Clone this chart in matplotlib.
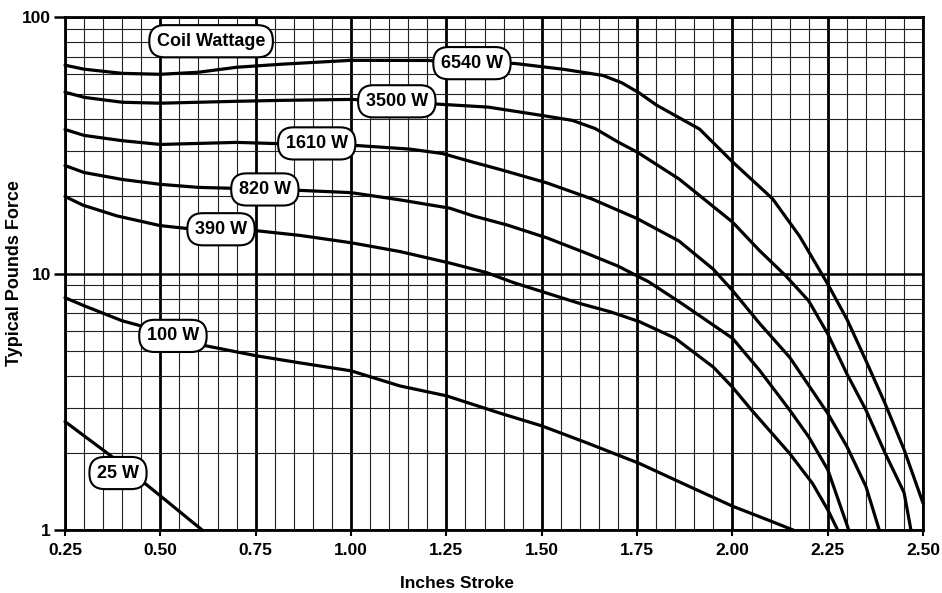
import numpy as np
import matplotlib.pyplot as plt

# Stroke (inches) vs typical pull force (lbs) for each coil wattage
x_6540 = [0.25, 0.30, 0.40, 0.50, 0.60, 0.70, 0.82, 1.00, 1.20, 1.43, 1.555, 1.66, 1.71, 1.757, 1.80,
          1.914, 2.00, 2.105, 2.176, 2.25, 2.30, 2.35, 2.40, 2.45, 2.50]
y_6540 = [65.0, 62.7, 60.4, 59.9, 61.0, 63.8, 65.6, 67.9, 67.8, 66.0, 62.7, 59.3, 55.5, 50.5, 45.5,
          36.6, 27.3, 19.6, 14.0, 9.1, 6.65, 4.58, 3.12, 2.06, 1.27]

x_3500 = [0.25, 0.30, 0.40, 0.50, 0.60, 0.70, 0.82, 1.00, 1.23, 1.36, 1.50, 1.58, 1.64, 1.70, 1.75,
          1.86, 2.00, 2.071, 2.14, 2.20, 2.25, 2.30, 2.35, 2.40, 2.45, 2.468]
y_3500 = [51.0, 48.7, 46.6, 46.2, 46.6, 47.0, 47.4, 47.8, 45.8, 44.6, 41.4, 39.6, 36.8, 32.6, 29.8,
          23.4, 15.9, 12.3, 9.8, 7.83, 5.82, 4.07, 2.94, 2.0, 1.40, 1.0]

x_1610 = [0.25, 0.30, 0.40, 0.50, 0.60, 0.70, 0.85, 1.015, 1.154, 1.24, 1.32, 1.39, 1.513, 1.63,
          1.75, 1.86, 1.95, 2.00, 2.071, 2.15, 2.25, 2.30, 2.35, 2.385]
y_1610 = [36.5, 34.6, 33.0, 31.9, 32.2, 32.5, 32.0, 31.6, 30.6, 29.4, 27.2, 25.5, 22.6, 19.6,
          16.4, 13.4, 10.4, 8.6, 6.4, 4.72, 2.85, 2.12, 1.48, 1.0]

x_820 = [0.25, 0.30, 0.40, 0.50, 0.60, 0.75, 0.873, 1.00, 1.128, 1.259, 1.32, 1.408, 1.513, 1.618,
         1.70, 1.78, 1.87, 2.00, 2.071, 2.15, 2.20, 2.25, 2.305]
y_820 = [26.4, 24.8, 23.3, 22.3, 21.7, 21.4, 21.1, 20.7, 19.4, 18.0, 16.8, 15.5, 13.8, 12.0,
         10.7, 9.3, 7.6, 5.6, 4.2, 2.94, 2.31, 1.72, 1.0]

x_390 = [0.25, 0.297, 0.386, 0.499, 0.57, 0.66, 0.753, 0.866, 1.00, 1.128, 1.259, 1.355, 1.424, 1.513,
         1.60, 1.68, 1.756, 1.85, 1.95, 2.00, 2.05, 2.15, 2.21, 2.25, 2.276]
y_390 = [20.0, 18.5, 16.8, 15.4, 15.0, 14.9, 14.7, 14.1, 13.2, 12.2, 11.0, 10.1, 9.25, 8.4,
         7.65, 7.1, 6.5, 5.6, 4.32, 3.61, 2.94, 1.99, 1.52, 1.2, 1.0]

x_100 = [0.25, 0.30, 0.40, 0.53, 0.62, 0.753, 0.866, 1.00, 1.128, 1.25, 1.39, 1.50, 1.618, 1.756,
         1.87, 2.00, 2.09, 2.16]
y_100 = [8.06, 7.5, 6.55, 5.8, 5.23, 4.78, 4.49, 4.18, 3.65, 3.34, 2.86, 2.55, 2.19, 1.82,
         1.52, 1.24, 1.10, 1.0]

x_25 = [0.25, 0.37, 0.50, 0.61]
y_25 = [2.65, 1.95, 1.36, 1.0]

# label text and where its box sits (x, y)
labels = ['6540 W', '3500 W', '1610 W', '820 W', '390 W', '100 W', '25 W']
label_x = [1.317, 1.12, 0.91, 0.774, 0.659, 0.533, 0.389]
label_y = [66.2, 47.0, 32.2, 21.3, 14.9, 5.72, 1.67]

x_ticks = [0.25, 0.50, 0.75, 1.00, 1.25, 1.50, 1.75, 2.00, 2.25, 2.50]
y_ticks = [1, 10, 100]

plt.rcParams['font.family'] = ['Liberation Sans', 'DejaVu Sans']
plt.rcParams['font.weight'] = 'bold'

fig = plt.figure(figsize=(9.42, 5.93), dpi=100)
ax = fig.add_axes([0.069, 0.106, 0.911, 0.865])

ax.set_yscale('log')
ax.set_xlim(0.25, 2.50)
ax.set_ylim(1, 100)

# graph-paper grid
ax.set_xticks(x_ticks)
ax.set_xticklabels(['%.2f' % t for t in x_ticks])
ax.set_xticks(np.arange(0.25, 2.501, 0.05), minor=True)
ax.set_yticks(y_ticks)
ax.set_yticklabels([str(t) for t in y_ticks])
ax.set_yticks([m * d for d in [1, 10] for m in range(2, 10)], minor=True)
ax.yaxis.set_minor_formatter(plt.NullFormatter())

ax.grid(which='minor', color='#222222', linewidth=0.8)
ax.grid(which='major', axis='x', color='black', linewidth=2.0)
ax.grid(which='major', axis='y', color='black', linewidth=1.8)
ax.set_axisbelow(True)

ax.tick_params(which='major', axis='x', length=4, width=1.5, labelsize=12.5, pad=5)
ax.tick_params(which='major', axis='y', length=8, width=1.8, labelsize=12.5, pad=2)
ax.tick_params(which='minor', length=0)
for s in ax.spines.values():
    s.set_linewidth(2.0)

series = [(x_6540, y_6540), (x_3500, y_3500), (x_1610, y_1610), (x_820, y_820),
          (x_390, y_390), (x_100, y_100), (x_25, y_25)]
for xs, ys in series:
    ax.plot(xs, ys, color='black', linewidth=2.3, solid_capstyle='round', solid_joinstyle='round',
            clip_on=False, zorder=3)

box = dict(boxstyle='round,pad=0.42,rounding_size=0.85', facecolor='white', edgecolor='black', linewidth=1.5)
for t, lx, ly in zip(labels, label_x, label_y):
    ax.text(lx, ly, t, fontsize=13, fontweight='bold', ha='center', va='center', bbox=box, zorder=5)
ax.text(0.633, 80.6, 'Coil Wattage', fontsize=13, fontweight='bold', ha='center', va='center',
        bbox=box, zorder=5)

fig.text(457 / 942, 1 - 584 / 593, 'Inches Stroke', fontsize=12.5, fontweight='bold',
         ha='center', va='center')
fig.text(15 / 942, 1 - 273 / 593, 'Typical Pounds Force', fontsize=13, fontweight='bold',
         ha='center', va='center', rotation=90)

fig.savefig('out.png', dpi=100)
